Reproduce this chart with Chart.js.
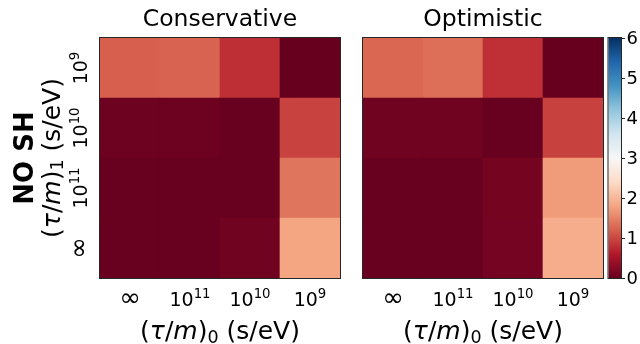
<!DOCTYPE html>
<html>
<head>
<meta charset="utf-8">
<script src="https://cdn.jsdelivr.net/npm/chart.js@4.4.1/dist/chart.umd.min.js"></script>
<style>
  html, body { margin: 0; padding: 0; background: #fff; }
  #wrap { position: relative; width: 640px; height: 344px; }
  .box { position: absolute; top: 0; height: 344px; }
</style>
</head>
<body>
<div id="wrap">
  <div class="box" style="left:0;width:350px"><canvas id="consChart"></canvas></div>
  <div class="box" style="left:350px;width:254px"><canvas id="optChart"></canvas></div>
  <div class="box" style="left:604px;width:36px"><canvas id="cbarChart"></canvas></div>
</div>
<script>
// columns: (tau/m)_0, left to right
const colBase = ['∞', '10', '10', '10'];
const colExp = ['', '11', '10', '9'];
// rows: (tau/m)_1, bottom to top
const rowBase = ['∞', '10', '10', '10'];
const rowExp = ['', '11', '10', '9'];

// Conservative, one array per row
const consRow1e9 = [1.20, 1.23, 0.78, 0.00];
const consRow1e10 = [0.04, 0.04, 0.01, 0.96];
const consRow1e11 = [0.01, 0.01, 0.01, 1.38];
const consRowInf = [0.01, 0.01, 0.07, 1.80];

// Optimistic
const optRow1e9 = [1.26, 1.33, 0.80, 0.00];
const optRow1e10 = [0.07, 0.07, 0.01, 0.95];
const optRow1e11 = [0.01, 0.01, 0.11, 1.71];
const optRowInf = [0.01, 0.01, 0.10, 1.89];

const cbarMin = 0;
const cbarMax = 6;
const cbarTicks = [0, 1, 2, 3, 4, 5, 6];

const FONT = '"DejaVu Sans"';
const rdbuStops = ['#67001f', '#b2182b', '#d6604d', '#f4a582', '#fddbc7', '#f7f7f7',
                   '#d1e5f0', '#92c5de', '#4393c3', '#2166ac', '#053061'];

function hexRgb(h) {
    return [1, 3, 5].map(i => parseInt(h.substr(i, 2), 16));
}

function rdbu(v) {
    let f = (v - cbarMin) / (cbarMax - cbarMin);
    f = Math.max(0, Math.min(1, f)) * 10;
    const i = Math.min(9, Math.floor(f));
    const t = f - i;
    const a = hexRgb(rdbuStops[i]), b = hexRgb(rdbuStops[i + 1]);
    const c = a.map((x, k) => Math.round(x + (b[k] - x) * t));
    return `rgb(${c[0]},${c[1]},${c[2]})`;
}

// draw a list of text pieces centred on (x, y) baseline, optionally rotated
function drawRich(ctx, parts, x, y, rot) {
    ctx.save();
    ctx.translate(x, y);
    if (rot) ctx.rotate(-Math.PI / 2);
    ctx.textBaseline = 'alphabetic';
    ctx.textAlign = 'left';
    ctx.fillStyle = '#000';
    let w = 0;
    parts.forEach(p => { ctx.font = p.font; w += ctx.measureText(p.t).width; });
    let cx = -w / 2;
    parts.forEach(p => {
        ctx.font = p.font;
        ctx.fillText(p.t, cx, p.dy || 0);
        cx += ctx.measureText(p.t).width;
    });
    ctx.restore();
}

function tickParts(base, exp) {
    const size = 19;
    if (base === '∞') return [{ t: base, font: `26px ${FONT}` }];
    const parts = [{ t: base, font: `${size}px ${FONT}` }];
    if (exp) parts.push({ t: exp, font: `${size * 0.7}px ${FONT}`, dy: -size * 0.4 });
    return parts;
}

function axisTitle(sub) {
    const s = 25;
    return [
        { t: '(', font: `${s}px ${FONT}` },
        { t: 'τ', font: `italic ${s}px ${FONT}` },
        { t: '/', font: `${s}px ${FONT}` },
        { t: 'm', font: `italic ${s}px ${FONT}` },
        { t: ')', font: `${s}px ${FONT}` },
        { t: sub, font: `${s * 0.7}px ${FONT}`, dy: s * 0.15 },
        { t: ' (s/eV)', font: `${s}px ${FONT}` }
    ];
}

function heatText(title, showY) {
    return {
        id: 'heatText',
        afterDraw(chart) {
            const ctx = chart.ctx;
            const a = chart.chartArea;
            const x = chart.scales.x, y = chart.scales.y;
            ctx.save();
            ctx.strokeStyle = '#262626';
            ctx.lineWidth = 1;
            ctx.strokeRect(a.left - 0.5, a.top - 0.5, a.right - a.left + 1, a.bottom - a.top + 1);
            ctx.restore();
            const midX = (a.left + a.right) / 2;
            const midY = (a.top + a.bottom) / 2;
            drawRich(ctx, [{ t: title, font: `23.5px ${FONT}` }], midX, 26);
            colBase.forEach((b, i) => {
                drawRich(ctx, tickParts(b, colExp[i]), x.getPixelForValue(i), 305.5);
            });
            drawRich(ctx, axisTitle('0'), midX, 339);
            if (showY) {
                rowBase.forEach((b, i) => {
                    drawRich(ctx, tickParts(b, rowExp[i]), a.left - 13, y.getPixelForValue(i + 0.5), true);
                });
                drawRich(ctx, axisTitle('1'), a.left - 40.5, midY, true);
                drawRich(ctx, [{ t: 'NO SH', font: `bold 26px ${FONT}` }], a.left - 67, midY, true);
            }
        }
    };
}

function heatChart(id, rows, pad, title, showY) {
    return new Chart(document.getElementById(id), {
        type: 'bar',
        data: {
            labels: colBase,
            datasets: rows.map(r => ({
                data: r.map(() => 1),
                backgroundColor: r.map(rdbu),
                borderWidth: 0,
                barPercentage: 1,
                categoryPercentage: 1
            }))
        },
        options: {
            responsive: true,
            maintainAspectRatio: false,
            animation: false,
            layout: { padding: pad },
            plugins: {
                legend: { display: false },
                tooltip: { enabled: false }
            },
            scales: {
                x: { stacked: true, display: false },
                y: { stacked: true, display: false, min: 0, max: 4 }
            }
        },
        plugins: [heatText(title, showY)]
    });
}

const consChart = heatChart('consChart', [consRowInf, consRow1e11, consRow1e10, consRow1e9],
    { left: 100, right: 10, top: 38, bottom: 66 }, 'Conservative', true);
const optChart = heatChart('optChart', [optRowInf, optRow1e11, optRow1e10, optRow1e9],
    { left: 13, right: 1, top: 38, bottom: 66 }, 'Optimistic', false);

const cbarChart = new Chart(document.getElementById('cbarChart'), {
    type: 'bar',
    data: {
        labels: ['cbar'],
        datasets: [{
            data: [cbarMax],
            backgroundColor(c) {
                const a = c.chart.chartArea;
                if (!a) return rdbuStops[0];
                const g = c.chart.ctx.createLinearGradient(0, a.bottom, 0, a.top);
                rdbuStops.forEach((s, i) => g.addColorStop(i / 10, s));
                return g;
            },
            borderWidth: 0,
            barPercentage: 1,
            categoryPercentage: 1
        }]
    },
    options: {
        responsive: true,
        maintainAspectRatio: false,
        animation: false,
        layout: { padding: { left: 4.5, right: 19, top: 38, bottom: 66 } },
        plugins: { legend: { display: false }, tooltip: { enabled: false } },
        scales: {
            x: { display: false },
            y: { display: false, min: cbarMin, max: cbarMax }
        }
    },
    plugins: [{
        id: 'cbarText',
        afterDraw(chart) {
            const ctx = chart.ctx;
            const a = chart.chartArea;
            const y = chart.scales.y;
            ctx.save();
            ctx.strokeStyle = '#262626';
            ctx.lineWidth = 1;
            ctx.strokeRect(a.left - 0.5, a.top - 0.5, a.right - a.left + 1, a.bottom - a.top + 1);
            ctx.fillStyle = '#000';
            ctx.font = `18px ${FONT}`;
            ctx.textAlign = 'left';
            ctx.textBaseline = 'middle';
            cbarTicks.forEach(t => {
                const py = Math.round(y.getPixelForValue(t)) + 0.5;
                ctx.beginPath();
                ctx.moveTo(a.right, py);
                ctx.lineTo(a.right + 4, py);
                ctx.stroke();
                ctx.fillText(String(t), a.right + 5.5, py + 1);
            });
            ctx.restore();
        }
    }]
});
</script>
</body>
</html>
